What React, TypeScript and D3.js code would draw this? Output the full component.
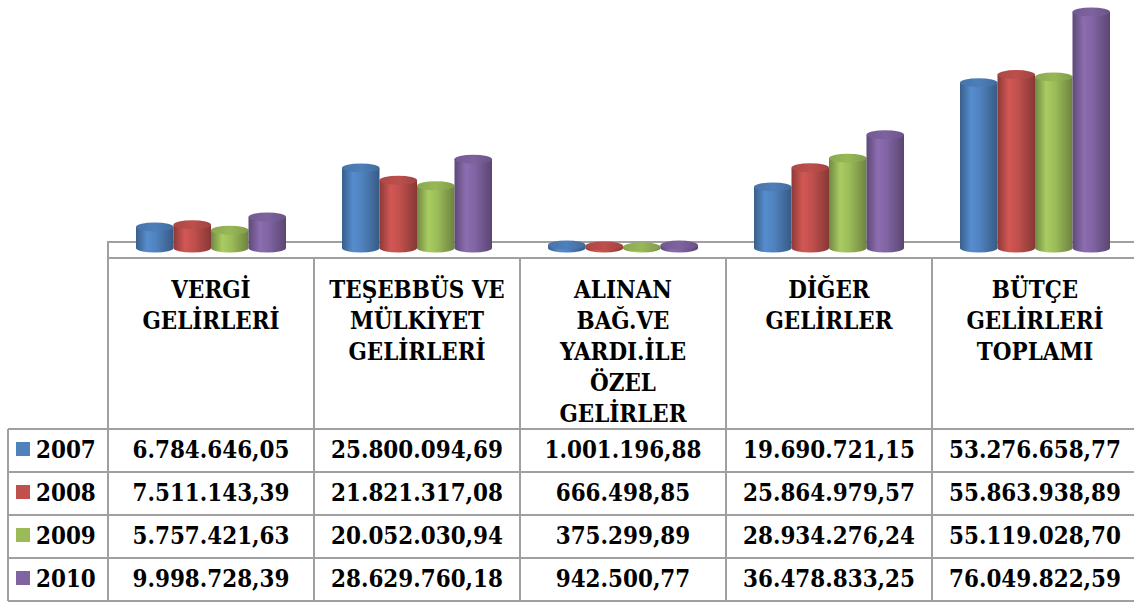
import React from "react";
import * as d3 from "d3";

// kategori başlıkları (tablo başlığında satır satır)
const categories = [
  "VERGİ GELİRLERİ",
  "TEŞEBBÜS VE MÜLKİYET GELİRLERİ",
  "ALINAN BAĞ.VE YARDI.İLE ÖZEL GELİRLER",
  "DİĞER GELİRLER",
  "BÜTÇE GELİRLERİ TOPLAMI",
];
const headerLines = [
  ["VERGİ", "GELİRLERİ"],
  ["TEŞEBBÜS VE", "MÜLKİYET", "GELİRLERİ"],
  ["ALINAN", "BAĞ.VE", "YARDI.İLE", "ÖZEL", "GELİRLER"],
  ["DİĞER", "GELİRLER"],
  ["BÜTÇE", "GELİRLERİ", "TOPLAMI"],
];

const years = ["2007", "2008", "2009", "2010"];
const values2007 = [6784646.05, 25800094.69, 1001196.88, 19690721.15, 53276658.77];
const values2008 = [7511143.39, 21821317.08, 666498.85, 25864979.57, 55863938.89];
const values2009 = [5757421.63, 20052030.94, 375299.89, 28934276.24, 55119028.7];
const values2010 = [9998728.39, 28629760.18, 942500.77, 36478833.25, 76049822.59];
const seriesValues = [values2007, values2008, values2009, values2010];
const colors = ["#4F81BD", "#C0504D", "#9BBB59", "#8064A2"];

const W = 1134;
const H = 603;
const tableLeft = 108;
const colW = 206;
const baseY = 248;
const floorTop = 242;
const floorBottom = 258;
const headerBottom = 429;
const rowH = 43;
const lineColor = "#a0a0a0";
const font = "'DejaVu Serif', serif";
const fs = 25;
const sx = 0.86;

const trLocale = d3.formatLocale({
  decimal: ",",
  thousands: ".",
  grouping: [3],
  currency: ["", ""],
});
const fmt = trLocale.format(",.2f");

const App = () => {
  const x0 = d3
    .scaleBand<string>()
    .domain(categories)
    .range([tableLeft, tableLeft + colW * categories.length]);
  const groupW = 150;
  const x1 = d3
    .scaleBand<string>()
    .domain(years)
    .range([(colW - groupW) / 2, (colW + groupW) / 2]);
  const y = d3.scaleLinear().domain([0, 79.9e6]).range([baseY, 0]);

  const ry = 4.5;

  const cylinders: JSX.Element[] = [];
  categories.forEach((cat, ci) => {
    years.forEach((yr, si) => {
      const v = seriesValues[si][ci];
      const left = (x0(cat) ?? 0) + (x1(yr) ?? 0);
      const w = x1.bandwidth();
      const rx = w / 2;
      const cx = left + rx;
      const top = y(v);
      const right = left + w;
      const body = `M${left},${top} L${left},${baseY} A${rx},${ry} 0 0 0 ${right},${baseY} L${right},${top} Z`;
      cylinders.push(
        <g key={`${ci}-${si}`}>
          <path d={body} fill={`url(#grad${si})`} />
          <ellipse cx={cx} cy={top} rx={rx} ry={ry} fill={`url(#top${si})`} />
        </g>
      );
    });
  });

  const tableRight = W + 10;
  const rowsTop = headerBottom;
  const tableBottom = rowsTop + rowH * years.length;

  return (
    <svg
      width={W}
      height={H}
      style={{ position: "absolute", left: 0, top: 0, background: "#fff" }}
    >
      <defs>
        {colors.map((c, i) => {
          const base = d3.color(c)!;
          return (
            <React.Fragment key={i}>
              <linearGradient id={`grad${i}`} x1="0" x2="1" y1="0" y2="0">
                <stop offset="0" stopColor={base.darker(0.9).formatHex()} />
                <stop offset="0.3" stopColor={base.brighter(0.25).formatHex()} />
                <stop offset="0.55" stopColor={c} />
                <stop offset="1" stopColor={base.darker(1.0).formatHex()} />
              </linearGradient>
              <linearGradient id={`top${i}`} x1="0" x2="1" y1="0" y2="0">
                <stop offset="0" stopColor={base.darker(0.3).formatHex()} />
                <stop offset="0.5" stopColor={base.darker(0.05).formatHex()} />
                <stop offset="1" stopColor={base.darker(0.5).formatHex()} />
              </linearGradient>
            </React.Fragment>
          );
        })}
      </defs>

      {/* zemin */}
      <g stroke={lineColor} strokeWidth={2}>
        <line x1={tableLeft} x2={tableRight} y1={floorTop} y2={floorTop} />
        <line x1={tableLeft} x2={tableLeft} y1={floorTop - 1} y2={floorBottom} />
      </g>

      {cylinders}

      {/* tablo çizgileri */}
      <g stroke={lineColor} strokeWidth={2}>
        <line x1={tableLeft} x2={tableRight} y1={floorBottom} y2={floorBottom} />
        {d3.range(categories.length + 1).map((i) => (
          <line
            key={i}
            x1={tableLeft + i * colW}
            x2={tableLeft + i * colW}
            y1={floorBottom}
            y2={tableBottom}
          />
        ))}
        <line x1={8} x2={8} y1={rowsTop} y2={tableBottom} />
        {d3.range(years.length + 1).map((i) => (
          <line
            key={`r${i}`}
            x1={8}
            x2={tableRight}
            y1={rowsTop + i * rowH}
            y2={rowsTop + i * rowH}
          />
        ))}
      </g>

      {/* başlıklar ve değerler */}
      <g fontFamily={font} fontWeight="bold" fontSize={fs} fill="#000">
        {headerLines.map((lines, ci) =>
          lines.map((t, li) => (
            <text
              key={`${ci}-${li}`}
              transform={`translate(${(x0(categories[ci]) ?? 0) + colW / 2},${298 + li * 31}) scale(${sx},1)`}
              textAnchor="middle"
            >
              {t}
            </text>
          ))
        )}

        {years.map((yr, si) => {
          const rowY = rowsTop + si * rowH;
          return (
            <g key={yr}>
              <rect x={16} y={rowY + 13} width={14} height={14} fill={colors[si]} />
              <text transform={`translate(36,${rowY + 29}) scale(${sx},1)`}>{yr}</text>
              {categories.map((cat, ci) => (
                <text
                  key={cat}
                  transform={`translate(${(x0(cat) ?? 0) + colW / 2},${rowY + 29}) scale(${sx},1)`}
                  textAnchor="middle"
                >
                  {fmt(seriesValues[si][ci])}
                </text>
              ))}
            </g>
          );
        })}
      </g>
    </svg>
  );
};

export default App;
